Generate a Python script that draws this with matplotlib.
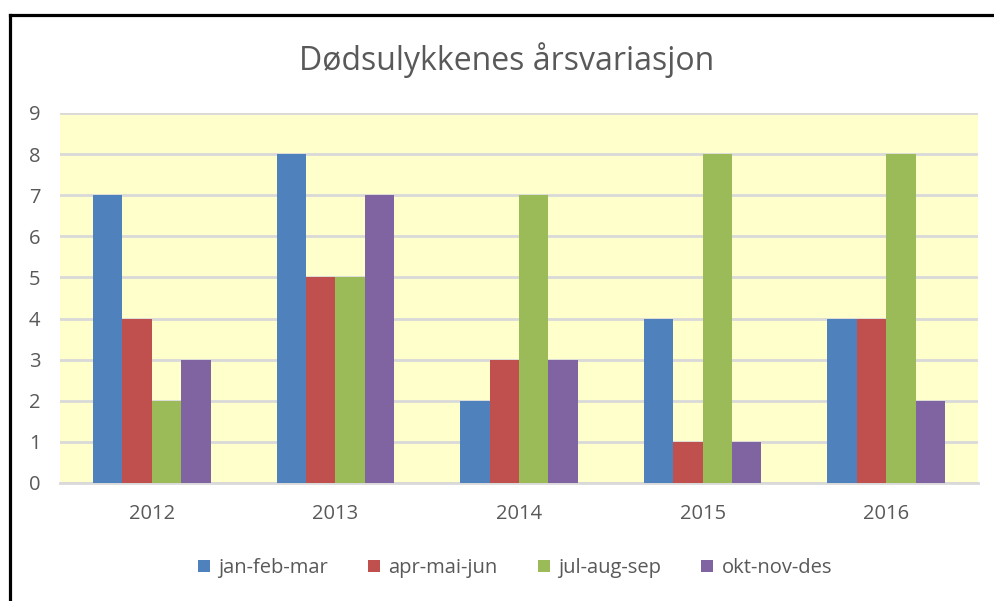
import matplotlib.pyplot as plt
import numpy as np
from matplotlib.lines import Line2D

years = ['2012', '2013', '2014', '2015', '2016']
jan_feb_mar = [7, 8, 2, 4, 4]
apr_mai_jun = [4, 5, 3, 1, 4]
jul_aug_sep = [2, 5, 7, 8, 8]
okt_nov_des = [3, 7, 3, 1, 2]

series = [jan_feb_mar, apr_mai_jun, jul_aug_sep, okt_nov_des]
labels = ['jan-feb-mar', 'apr-mai-jun', 'jul-aug-sep', 'okt-nov-des']
colors = ['#4F81BD', '#C0504D', '#9BBB59', '#8064A2']

plt.rcParams['font.family'] = ['Open Sans', 'DejaVu Sans']
txt = '#595959'

fig = plt.figure(figsize=(9.95, 6.01), dpi=100)
ax = fig.add_axes([60/995, 1 - 483/601, 918/995, 370/601])
ax.set_facecolor('#FFFFCC')

x = np.arange(len(years))
w = 0.16
for i, (vals, lab, col) in enumerate(zip(series, labels, colors)):
    ax.bar(x + (i - 1.5) * w, vals, w, color=col, label=lab, zorder=3)

ax.set_xlim(-0.5, len(years) - 0.5)
ax.set_ylim(0, 9)
ax.set_yticks(range(10))
ax.set_xticks(x)
ax.set_xticklabels(years)
ax.yaxis.grid(True, color='#D9D9D9', linewidth=2, zorder=0)
ax.set_axisbelow(True)
for s in ['top', 'right', 'left']:
    ax.spines[s].set_visible(False)
ax.spines['bottom'].set_color('#D9D9D9')
ax.spines['bottom'].set_linewidth(2)
ax.tick_params(axis='both', length=0, labelsize=14.5, colors=txt)
ax.tick_params(axis='y', pad=14)
ax.tick_params(axis='x', pad=15)

fig.text(507/995, 1 - 60/601, 'Dødsulykkenes årsvariasjon', ha='center', va='center',
         fontsize=23, color=txt)

leg = fig.legend(loc='center', bbox_to_anchor=(515/995, 1 - 568/601), ncol=4,
                 frameon=False, fontsize=14.5, handlelength=0.6, handleheight=0.6,
                 handletextpad=0.4, columnspacing=2.0)
for t in leg.get_texts():
    t.set_color(txt)

# partial frame of the screenshot (left and top edges)
fig.add_artist(Line2D([9.5/995, 9.5/995], [0, 1 - 14.5/601], color='black', linewidth=2.3,
                      transform=fig.transFigure))
fig.add_artist(Line2D([9.5/995, 1], [1 - 15/601, 1 - 15/601], color='black', linewidth=2.3,
                      transform=fig.transFigure))

fig.savefig('out.png', dpi=100, facecolor='white')
